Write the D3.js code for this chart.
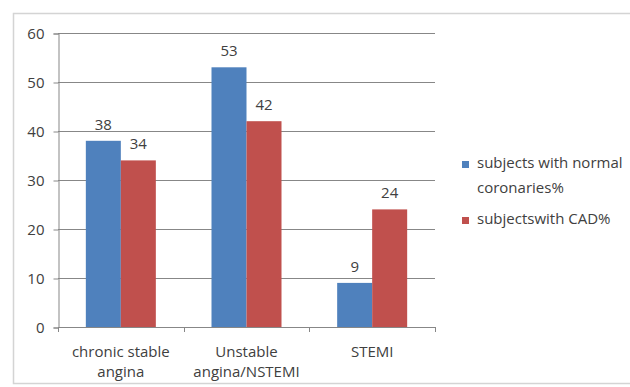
<!DOCTYPE html>
<html>
<head>
<meta charset="utf-8">
<script src="https://cdn.jsdelivr.net/npm/d3@7"></script>
<style>
  html, body { margin: 0; padding: 0; background: #fff; }
  svg { display: block; }
  text { font-family: "Open Sans", "Liberation Sans", Arial, sans-serif; fill: #404040; }
</style>
</head>
<body>
<svg id="chart" width="630" height="387"></svg>
<script>
// Chart data
const categories = [["chronic stable", "angina"], ["Unstable", "angina/NSTEMI"], ["STEMI"]];
const seriesNames = ["subjects with normal coronaries%", "subjectswith CAD%"];
const normalCoronaries = [38, 53, 9];
const withCAD = [34, 42, 24];
const yTicks = [0, 10, 20, 30, 40, 50, 60];
const colors = ["#4F81BD", "#C0504D"];

const svg = d3.select("#chart");
const W = 630;
const plot = { left: 58, right: 435, top: 33, bottom: 327 };
const FS = 15;

// Outer chart frame
svg.append("rect")
  .attr("x", 13.5).attr("y", 13.5)
  .attr("width", W + 5).attr("height", 370)
  .attr("fill", "#fff").attr("stroke", "#d4d4d4").attr("stroke-width", 1.5);

const catIdx = d3.range(categories.length);
const x = d3.scaleBand().domain(catIdx).range([plot.left, plot.right]).paddingInner(0).paddingOuter(0);
const y = d3.scaleLinear().domain([0, 60]).range([plot.bottom, plot.top]);

// Horizontal gridlines
svg.append("g").selectAll("line").data(yTicks.filter(t => t > 0)).join("line")
  .attr("x1", plot.left).attr("x2", plot.right)
  .attr("y1", d => Math.round(y(d)) + 0.5).attr("y2", d => Math.round(y(d)) + 0.5)
  .attr("stroke", "#878787").attr("stroke-width", 1);

// Y axis
const yAxis = svg.append("g").attr("transform", `translate(${plot.left + 0.5},0.5)`)
  .call(d3.axisLeft(y).tickValues(yTicks).tickSize(5).tickPadding(9));
yAxis.select(".domain").attr("stroke", "#878787");
yAxis.selectAll(".tick line").attr("stroke", "#878787");
yAxis.selectAll(".tick text").attr("font-size", FS).attr("fill", "#404040")
  .style("font-family", "'Open Sans', 'Liberation Sans', Arial, sans-serif");

// Bars with value labels
const barW = 35;
const series = [normalCoronaries, withCAD];
series.forEach((vals, si) => {
  const g = svg.append("g");
  g.selectAll("rect").data(vals).join("rect")
    .attr("x", (d, i) => x(i) + x.bandwidth() / 2 - barW + si * barW)
    .attr("y", d => y(d))
    .attr("width", barW)
    .attr("height", d => y(0) - y(d))
    .attr("fill", colors[si]);
  g.selectAll("text").data(vals).join("text")
    .attr("x", (d, i) => x(i) + x.bandwidth() / 2 - barW / 2 + si * barW)
    .attr("y", d => y(d) - 11)
    .attr("text-anchor", "middle")
    .attr("font-size", FS)
    .text(d => d);
});

// X axis baseline and category separators
svg.append("line")
  .attr("x1", plot.left).attr("x2", plot.right)
  .attr("y1", plot.bottom + 0.5).attr("y2", plot.bottom + 0.5)
  .attr("stroke", "#878787");
svg.append("g").selectAll("line").data(d3.range(categories.length + 1)).join("line")
  .attr("x1", i => Math.round(plot.left + i * x.bandwidth()) + 0.5)
  .attr("x2", i => Math.round(plot.left + i * x.bandwidth()) + 0.5)
  .attr("y1", plot.bottom).attr("y2", plot.bottom + 5)
  .attr("stroke", "#878787");

// Category labels
const catG = svg.append("g");
categories.forEach((lines, i) => {
  const cx = x(i) + x.bandwidth() / 2;
  const t = catG.append("text")
    .attr("x", cx).attr("y", 357)
    .attr("text-anchor", "middle")
    .attr("font-size", FS);
  lines.forEach((ln, k) => {
    t.append("tspan").attr("x", cx).attr("dy", k === 0 ? 0 : 20).text(ln);
  });
});

// Legend
const legend = [
  { name: ["subjects with normal", "coronaries%"], color: colors[0], y: 168 },
  { name: ["subjectswith CAD%"], color: colors[1], y: 224 }
];
legend.forEach(item => {
  svg.append("rect").attr("x", 462).attr("y", item.y - 7).attr("width", 7).attr("height", 7).attr("fill", item.color);
  const t = svg.append("text").attr("x", 477).attr("y", item.y).attr("font-size", FS);
  item.name.forEach((ln, k) => t.append("tspan").attr("x", 477).attr("dy", k === 0 ? 0 : 25).text(ln));
});
</script>
</body>
</html>
